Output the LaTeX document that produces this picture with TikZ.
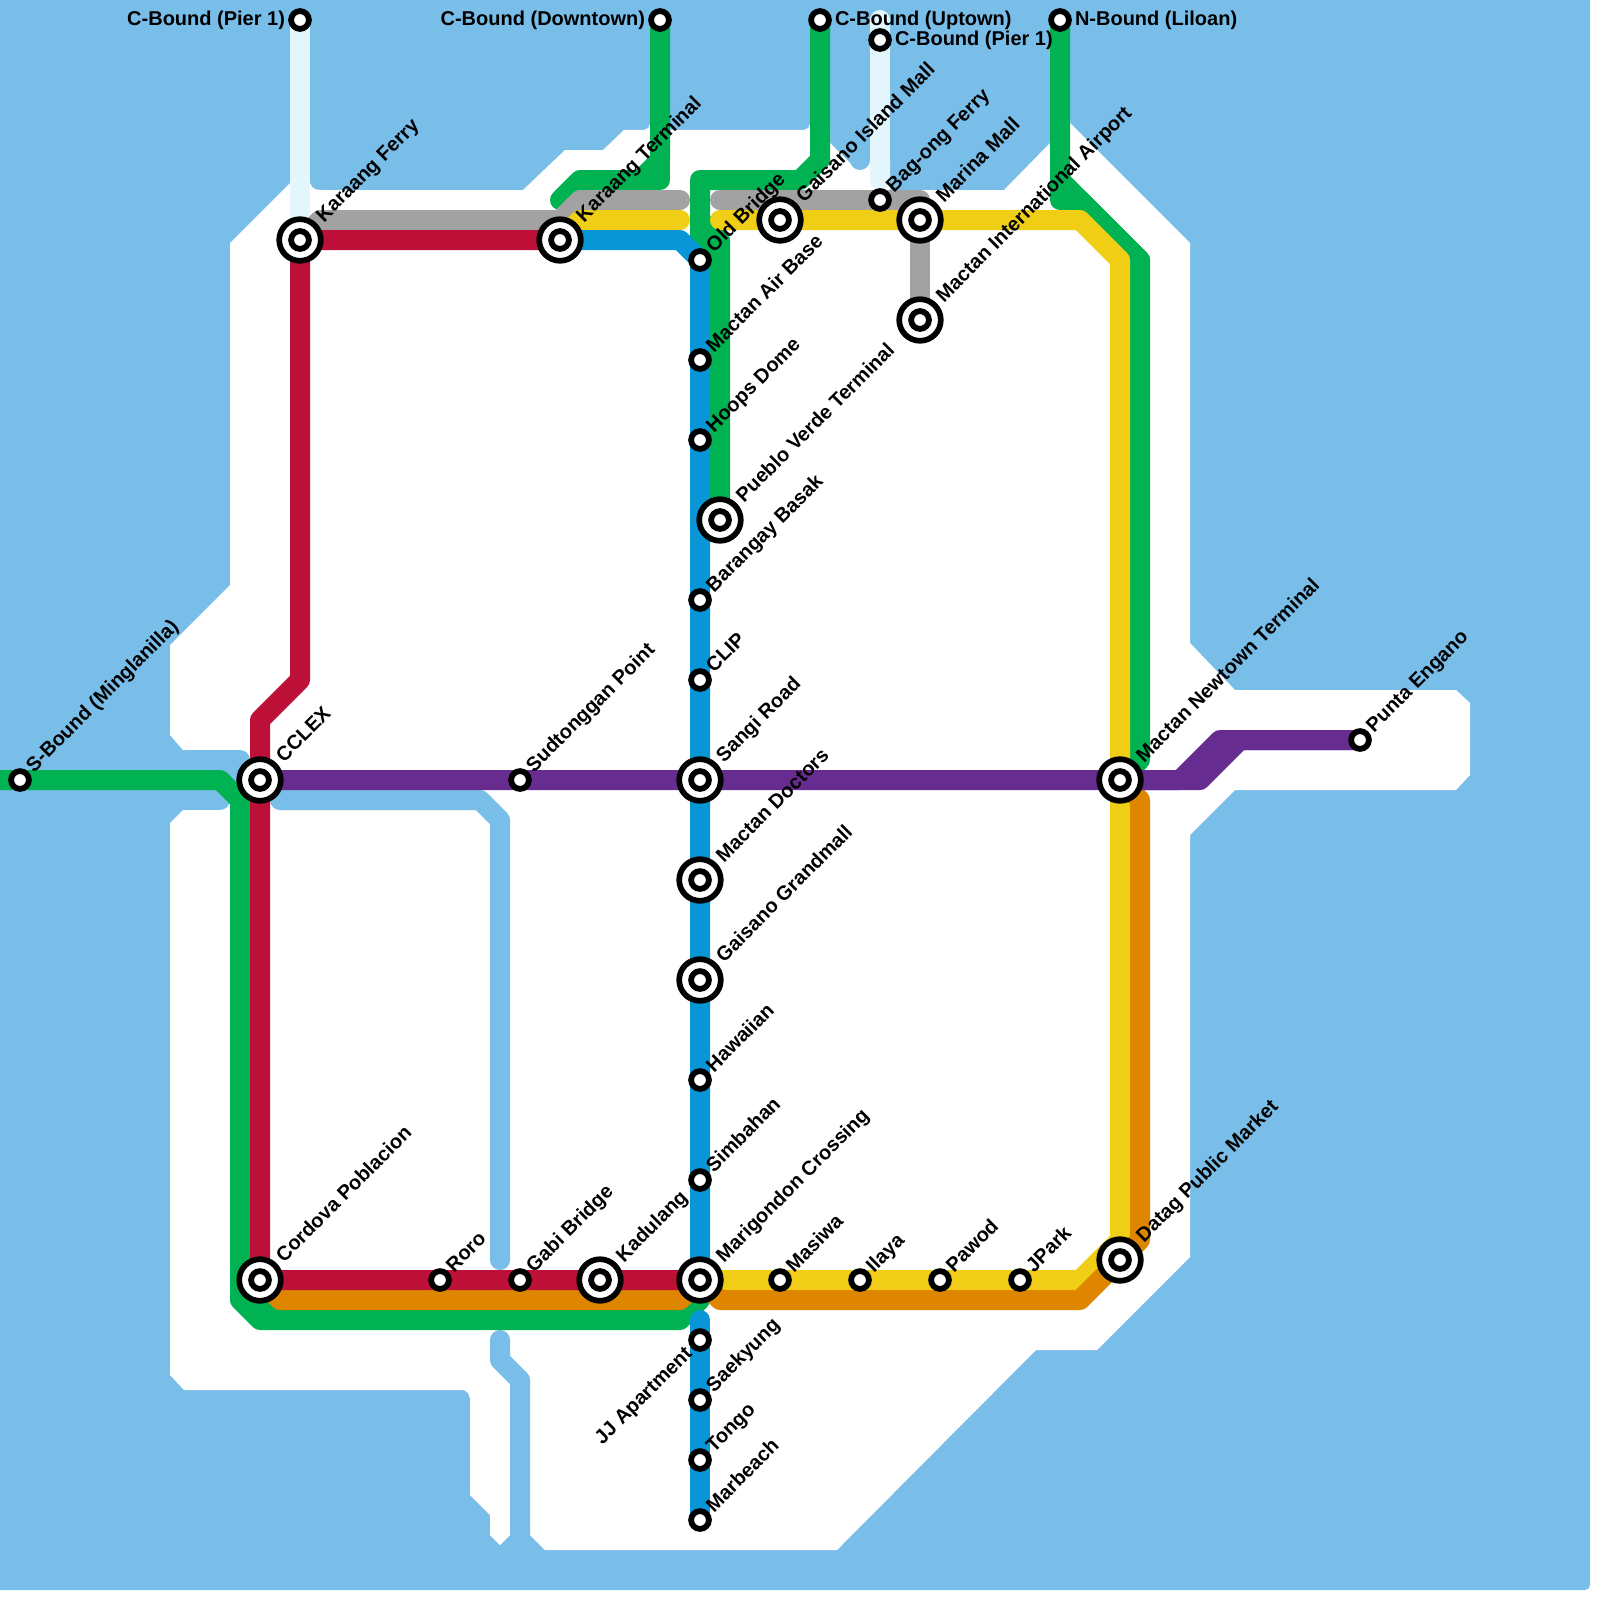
\documentclass[tikz,border=0pt]{standalone}
\usepackage{fontspec}
\setmainfont{Liberation Sans}[BoldFont={Liberation Sans Bold}]
\pgfdeclarelayer{bg}
\pgfsetlayers{bg,main}
\definecolor{water}{HTML}{79BDE9}
\definecolor{mred}{HTML}{BD1038}
\definecolor{mgray}{HTML}{A2A2A2}
\definecolor{myellow}{HTML}{F0CE15}
\definecolor{mblue}{HTML}{0896D7}
\definecolor{mgreen}{HTML}{00B251}
\definecolor{mpurple}{HTML}{662C90}
\definecolor{morange}{HTML}{DF8600}
\definecolor{mpale}{HTML}{E3F6FB}
\tikzset{
  route/.style={line width=20pt,line cap=round,line join=round},
  wline/.style={route,draw=water},
  stn/.style={circle,draw=black,fill=white,line width=5.8pt,minimum size=17.8pt,inner sep=0pt},
  ichg/.style={circle,draw=black,fill=white,line width=5.7pt,minimum size=41.6pt,inner sep=0pt},
  ichgin/.style={circle,draw=black,fill=white,line width=5.8pt,minimum size=17.8pt,inner sep=0pt},
  lbl/.style={font=\fontsize{20}{24}\selectfont\bfseries,text=black,inner sep=0pt,outer sep=0pt},
  lblr/.style={lbl,rotate=45,anchor=base west},
  lblh/.style={lbl,anchor=base west},
  lblhl/.style={lbl,anchor=base east},
  lbldl/.style={lbl,rotate=45,anchor=base east},
}
\newcommand{\stS}[4]{\node[stn] (#1) at (#2,#3) {};\node[lblr] (#1-l) at ([shift={(14,-7)}]#1.center) {#4};}
\newcommand{\stI}[4]{\node[ichg] (#1) at (#2,#3) {};\node[ichgin] (#1-i) at (#1.center) {};\node[lblr] (#1-l) at ([shift={(24,-17)}]#1.center) {#4};}
\begin{document}
\begin{tikzpicture}[x=1pt,y=-1pt]
\useasboundingbox (0,0) rectangle (1600,1600);
% stations
\stS{sbound}{20}{780}{S-Bound (Minglanilla)}
\stI{cclex}{260}{780}{CCLEX}
\stS{sud}{520}{780}{Sudtonggan Point}
\stI{sangi}{700}{780}{Sangi Road}
\stI{newtown}{1120}{780}{Mactan Newtown Terminal}
\stS{punta}{1360}{740}{Punta Engano}
\stI{kferry}{300}{240}{Karaang Ferry}
\stI{kterm}{560}{240}{Karaang Terminal}
\node[stn] (cpier) at (300,20) {};
\node[lblhl] (cpier-l) at ([shift={(-15,6)}]cpier.center) {C-Bound (Pier 1)};
\node[stn] (cdown) at (660,20) {};
\node[lblhl] (cdown-l) at ([shift={(-15,6)}]cdown.center) {C-Bound (Downtown)};
\node[stn] (cup) at (820,20) {};
\node[lblh] (cup-l) at ([shift={(15,6)}]cup.center) {C-Bound (Uptown)};
\node[stn] (cpiertwo) at (880,40) {};
\node[lblh] (cpiertwo-l) at ([shift={(15,6)}]cpiertwo.center) {C-Bound (Pier 1)};
\node[stn] (nbound) at (1060,20) {};
\node[lblh] (nbound-l) at ([shift={(15,6)}]nbound.center) {N-Bound (Liloan)};
\stS{oldb}{700}{260}{Old Bridge}
\stS{airbase}{700}{360}{Mactan Air Base}
\stS{hoops}{700}{440}{Hoops Dome}
\stI{pueblo}{720}{520}{Pueblo Verde Terminal}
\stS{basak}{700}{600}{Barangay Basak}
\stS{clip}{700}{680}{CLIP}
\stI{doctors}{700}{880}{Mactan Doctors}
\stI{grand}{700}{980}{Gaisano Grandmall}
\stS{hawaiian}{700}{1080}{Hawaiian}
\stS{simbahan}{700}{1180}{Simbahan}
\stI{marig}{700}{1280}{Marigondon Crossing}
\stS{masiwa}{780}{1280}{Masiwa}
\stS{ilaya}{860}{1280}{Ilaya}
\stS{pawod}{940}{1280}{Pawod}
\stS{jpark}{1020}{1280}{JPark}
\stI{datag}{1120}{1260}{Datag Public Market}
\node[stn] (jj) at (700,1340) {};
\node[lbldl] (jj-l) at ([shift={(-7,15)}]jj.center) {JJ Apartment};
\stS{saek}{700}{1400}{Saekyung}
\stS{tongo}{700}{1460}{Tongo}
\stS{marb}{700}{1520}{Marbeach}
\stI{gaisisl}{780}{220}{Gaisano Island Mall}
\stS{bagong}{880}{200}{Bag-ong Ferry}
\stI{marina}{920}{220}{Marina Mall}
\stI{airport}{920}{320}{Mactan International Airport}
\stI{cordova}{260}{1280}{Cordova Poblacion}
\stS{roro}{440}{1280}{Roro}
\stS{gabi}{520}{1280}{Gabi Bridge}
\stI{kadulang}{600}{1280}{Kadulang}
\begin{pgfonlayer}{bg}
% sea
\fill[water,rounded corners=5pt] (-30,-30) rectangle (1590,1590);
% land
\fill[white] (230,243) -- (290,183) -- (310,183) -- (312,187) -- (316,189.5) -- (322,190) -- (523,190) -- (565,150) -- (603,150) -- (624,130)
  -- (644,130) -- (648,128) -- (650,124) -- (670,124) -- (670,130) -- (804,130) -- (808,128) -- (810,124) -- (830,124) -- (830,143)
  -- (856,169) -- (864,169) -- (870,160) -- (880,140) -- (890,160) -- (890,190) -- (1004,190) -- (1050,143) -- (1050,120) -- (1070,120) -- (1070,123)
  -- (1190,243) -- (1190,643) -- (1235,690) -- (1456,690) -- (1470,703) -- (1470,775) -- (1456,790) -- (1235,790) -- (1190,835)
  -- (1190,1257) -- (1097,1350) -- (1036,1350) -- (837,1550) -- (545,1550) -- (530,1535) -- (510,1535) -- (500,1545) -- (490,1535) -- (490,1515)
  -- (470,1495) -- (470,1398) -- (468,1393) -- (464,1390) -- (184,1390) -- (170,1375) -- (170,823) -- (183,810) -- (200,810) -- (200,750)
  -- (183,750) -- (170,735) -- (170,645) -- (230,585) -- cycle;
% water features on land
\draw[wline] (190,760) -- (240,760);
\draw[wline] (190,800) -- (220,800);
\draw[wline] (190,780) -- (240,780);
\draw[wline] (280,800) -- (480,800) -- (500,820) -- (500,1260);
\draw[wline] (500,1340) -- (500,1360) -- (520,1380) -- (520,1540);
\fill[water] (860,160) circle (10);
% green
\draw[route,draw=mgreen] (-15,780) -- (220,780) -- (240,800) -- (240,1300) -- (260,1320) -- (680,1320) -- (700,1300) -- (marig.center);
\draw[route,draw=mgreen] (240,1280) -- (280,1320);
\draw[route,draw=mgreen] (560,200) -- (580,180) -- (640,180) -- (660,160) -- (cdown.center);
\draw[route,draw=mgreen] (640,180) -- (660,180) -- (660,160);
\draw[route,draw=mgreen] (pueblo.center) -- (720,240) -- (700,220) -- (700,180) -- (800,180) -- (820,160) -- (cup.center);
\draw[route,draw=mgreen] (700,220) -- (700,240) -- (720,260);
\draw[route,draw=mgreen] (newtown.center) -- (1140,760) -- (1140,260) -- (1060,180) -- (nbound.center);
\draw[route,draw=mgreen] (1060,180) -- (1060,200) -- (1080,200) -- (1140,260);
% pale
\draw[route,draw=mpale] (cpier.center) -- (kferry.center);
\draw[route,draw=mpale] (880,20) -- (880,180);
% gray
\draw[route,draw=mgray] (kferry.center) -- (320,220) -- (560,220) -- (580,200) -- (680,200);
\draw[route,draw=mgray] (720,200) -- (920,200) -- (airport.center);
% yellow
\draw[route,draw=myellow] (kterm.center) -- (580,220) -- (680,220);
\draw[route,draw=myellow] (720,220) -- (1080,220) -- (1120,260) -- (1120,1240) -- (1080,1280) -- (marig.center);
% orange
\draw[route,draw=morange] (cordova.center) -- (280,1300) -- (680,1300) -- (marig.center);
\draw[route,draw=morange] (marig.center) -- (720,1300) -- (1080,1300) -- (1140,1240) -- (1140,800) -- (newtown.center);
% blue
\draw[route,draw=mblue] (kterm.center) -- (680,240) -- (oldb.center) -- (marig.center);
\draw[route,draw=mblue] (700,1320) -- (marb.center);
% red
\draw[route,draw=mred] (kterm.center) -- (kferry.center) -- (300,680) -- (260,720) -- (cordova.center) -- (marig.center);
% purple
\draw[route,draw=mpurple] (cclex.center) -- (1180,780) -- (1220,740) -- (punta.center);
\draw[route,draw=mpurple] (newtown.center) -- (1200,780) -- (1240,740) -- (punta.center);
\end{pgfonlayer}
\end{tikzpicture}
\end{document}
